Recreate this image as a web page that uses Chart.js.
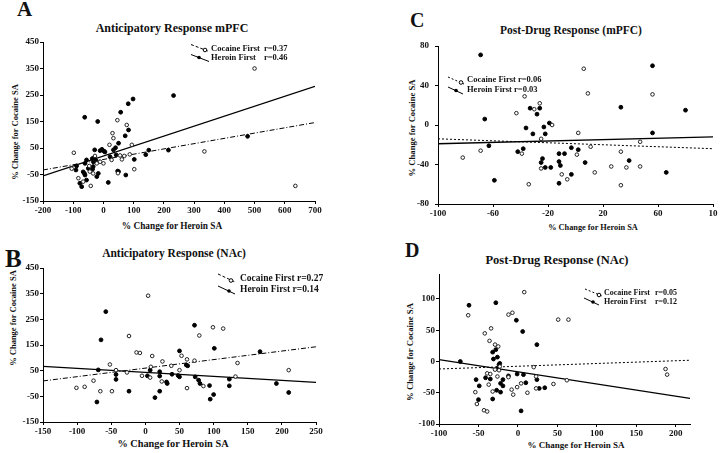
<!DOCTYPE html>
<html lang="en">
<head>
<meta charset="UTF-8">
<title>Cocaine vs heroin SA</title>
<script src="https://cdn.jsdelivr.net/npm/chart.js"></script>
<style>
  body { margin:0; background:#fff; width:720px; height:453px; overflow:hidden; position:relative;
         font-family:"Liberation Serif", "Times New Roman", serif; color:#111; }
  canvas { position:absolute; }
  .txt { position:absolute; font-weight:bold; white-space:nowrap; line-height:1; transform:translate(-50%,-50%); }
  .vert { transform:translate(-50%,-50%) rotate(-90deg); }
  .letra { position:absolute; font-weight:bold; line-height:1; }
</style>
</head>
<body>
<div class="letra" style="left:17px;top:-1px;font-size:21px">A</div>
<div class="letra" style="left:5px;top:246px;font-size:25px">B</div>
<div class="letra" style="left:410px;top:10px;font-size:20px">C</div>
<div class="letra" style="left:405px;top:240px;font-size:20px">D</div>

<div class="txt" style="left:172px;top:28px;font-size:12px">Anticipatory Response mPFC</div>
<div class="txt" style="left:174px;top:254px;font-size:11.5px">Anticipatory Response (NAc)</div>
<div class="txt" style="left:571px;top:31px;font-size:11.5px">Post-Drug Response (mPFC)</div>
<div class="txt" style="left:557px;top:260px;font-size:12.5px">Post-Drug Response (NAc)</div>

<div class="txt" style="left:172px;top:227px;font-size:9.3px">% Change for Heroin SA</div>
<div class="txt" style="left:173px;top:444px;font-size:10.3px">% Change for Heroin SA</div>
<div class="txt" style="left:593px;top:228px;font-size:8.3px">% Change for Heroin SA</div>
<div class="txt" style="left:576px;top:445px;font-size:9px">% Change for Heroin SA</div>

<div class="txt vert" style="left:15px;top:132px;font-size:8.5px">% Change for Cocaine SA</div>
<div class="txt vert" style="left:13px;top:318px;font-size:8.5px">% Change for Cocaine SA</div>
<div class="txt vert" style="left:412px;top:128px;font-size:8.6px">% Change for Cocaine SA</div>
<div class="txt vert" style="left:410px;top:352px;font-size:8.7px">% Change for Cocaine SA</div>

<canvas id="cA" width="330" height="225" style="left:0;top:0"></canvas>
<canvas id="cB" width="330" height="212" style="left:0;top:236px"></canvas>
<canvas id="cC" width="360" height="225" style="left:360px;top:0"></canvas>
<canvas id="cD" width="360" height="212" style="left:360px;top:236px"></canvas>

<script>
  // pontos: [x = % heroina, y = % cocaina]
  // A - antecipatoria mPFC
  const aCocaina = [[500,350],[635,-93],[334,37],[46,155],[77,137],[30,106],[33,87],[20,62],[94,62],[87,26],
    [-98,32],[-105,-28],[102,-30],[48,-45],[-83,-64],[-42,-93],[-28,20],[27,5],[61,7],[69,20],[-11,-2],
    [-22,-8],[-47,-18],[-67,-77],[-34,-46],[-45,-39],[0,-8],[55,22]]
  const aHeroina = [[-62,166],[-19,150],[98,235],[82,217],[232,248],[57,185],[83,118],[72,96],[50,68],[40,51],
    [477,94],[215,42],[150,42],[140,25],[102,7],[74,-52],[16,-80],[47,-37],[-72,-96],[-29,43],[-11,40],[-5,45],
    [2,38],[5,35],[22,17],[33,43],[42,24],[-37,10],[-30,14],[-24,2],[-33,-3],[-56,5],[-61,-8],[-89,-18],
    [-91,-33],[-67,-40],[-63,-46],[-61,-52],[-50,-27],[-34,-20],[-78,-83],[-56,-71],[50,-39],[-22,-58],
    [-17,-46],[-36,-30]]
  const aCocainaReta = [[-200,-33],[700,146]]
  const aHeroinaReta = [[-200,-55],[700,283]]

  // B - antecipatoria NAc
  const bCocaina = [[4,342],[-24,185],[99,219],[114,214],[79,187],[-13,121],[-8,119],[10,107],[53,108],[61,94],
    [-52,74],[8,65],[25,86],[38,69],[72,89],[135,80],[132,27],[210,52],[-27,43],[-5,30],[7,23],[24,8],
    [-101,-17],[-89,-13],[-76,11],[-66,-30],[-49,-30],[61,-18],[85,-10],[50,52],[-43,52]]
  const bHeroina = [[-58,280],[-65,170],[72,227],[101,137],[50,127],[168,124],[-69,53],[-43,35],[-43,16],
    [-24,-30],[3,30],[7,52],[21,46],[21,29],[21,-30],[14,-55],[31,6],[32,0],[39,36],[48,31],[50,26],[60,72],
    [62,69],[73,26],[78,13],[80,0],[94,-8],[100,-43],[95,-61],[123,17],[123,-9],[192,0],[210,-35],[-71,-72]]
  const bCocainaReta = [[-150,10],[250,143]]
  const bHeroinaReta = [[-150,67],[250,4]]

  // C - pos-droga mPFC
  const cCocaina = [[-82,-33],[-69,-26],[-43,12],[-37,29],[-30,16],[-26,22],[-25,-14],[-17,0],[6,57],[9,32],
    [2,-8],[11,-22],[-39,-29],[-25,-44],[-10,-50],[-34,-60],[-6,-55],[1,-30],[14,-48],[26,-42],[33,-27],
    [33,-61],[37,-43],[47,-42],[47,-17],[56,31]]
  const cHeroina = [[-69,71],[56,60],[-66,6],[-63,-21],[-59,-56],[-36,-3],[-33,17],[-28,11],[-26,17],[-23,-2],
    [-19,2],[-22,-9],[-31,-9],[-42,-27],[-38,-24],[-25,-38],[-24,-34],[-22,-43],[-18,-43],[-12,-29],[-12,-37],
    [-11,-41],[-12,-59],[-8,-29],[-3,-23],[2,-25],[7,-38],[-3,-50],[33,18],[39,-36],[56,-8],[66,-48],[80,15]]
  const cCocainaReta = [[-100,-14],[100,-24]]
  const cHeroinaReta = [[-100,-19],[100,-12]]

  // D - pos-droga NAc
  const dCocaina = [[8,111],[-63,74],[-12,75],[-7,78],[51,67],[64,67],[-42,45],[-34,53],[-36,33],[-29,27],
    [-25,24],[187,-12],[189,-21],[20,-9],[62,-30],[45,-36],[12,-50],[4,-35],[-8,-45],[-6,-53],[-54,-49],
    [-52,-68],[-43,-78],[-39,-80],[-37,-37],[-39,-19],[-32,-48],[23,-43],[-23,-8],[-24,-14],[-26,-24],
    [-1,-41],[-12,-25],[23,-24],[-29,-13],[-35,-20]]
  const dHeroina = [[-62,90],[-28,94],[-2,66],[6,48],[24,27],[-73,0],[-53,-29],[-49,-39],[-50,-61],[-41,-26],
    [-35,-28],[-32,15],[-31,4],[-28,19],[-26,7],[-24,-5],[-23,-3],[-26,-11],[-27,-46],[-32,-60],[-22,-35],
    [-22,-49],[-19,-39],[-19,-29],[-12,-23],[-1,-20],[7,-21],[10,-34],[24,-29],[27,-43],[34,-42],[4,-79]]
  const dCocainaReta = [[-100,-12],[218,2]]
  const dHeroinaReta = [[-100,3],[218,-59]]

  const fonte = '"Liberation Serif", "Times New Roman", serif'

  function pares(lista) {
    return lista.map(p => ({ x: p[0], y: p[1] }))
  }

  // legenda com tracinho inclinado e marcador, desenhada no canvas
  function criarLegenda(itens, tamanho) {
    return {
      id: 'legendaDiag',
      afterDraw(chart) {
        const ctx = chart.ctx
        ctx.save()
        ctx.font = `bold ${tamanho}px ${fonte}`
        ctx.textBaseline = 'middle'
        itens.forEach(it => {
          ctx.strokeStyle = '#000'
          ctx.lineWidth = 1
          ctx.setLineDash(it.tracejado || [])
          ctx.beginPath()
          ctx.moveTo(it.linha[0], it.linha[1])
          ctx.lineTo(it.linha[2], it.linha[3])
          ctx.stroke()
          ctx.setLineDash([])
          ctx.beginPath()
          ctx.arc(it.marca[0], it.marca[1], 1.8, 0, 2 * Math.PI)
          if (it.aberto) {
            ctx.fillStyle = '#fff'
            ctx.fill()
            ctx.stroke()
          } else {
            ctx.fillStyle = '#000'
            ctx.fill()
          }
          ctx.fillStyle = '#111'
          ctx.fillText(it.texto, it.pos[0], it.pos[1])
          if (it.r) ctx.fillText(it.r, it.rx, it.pos[1])
        })
        ctx.restore()
      }
    }
  }

  function eixo(min, max, passo, tamanho, ehY, pad, rotulo) {
    return {
      type: 'linear', min: min, max: max,
      ticks: {
        stepSize: passo, includeBounds: false, autoSkip: false, maxRotation: 0,
        color: '#111', padding: pad, font: { family: fonte, size: 9, weight: 'bold' },
        callback: rotulo || (v => v)
      },
      grid: { drawOnChartArea: false, drawTicks: true, tickLength: 3, color: '#000' },
      border: { display: true, color: '#000', width: 1 },
      afterFit: function (s) {
        if (ehY) s.width = tamanho
        else s.height = tamanho
      }
    }
  }

  function montarGrafico(id, cfg) {
    new Chart(document.getElementById(id), {
      type: 'scatter',
      data: {
        datasets: [
          { data: pares(cfg.coc), pointRadius: 1.8, pointBackgroundColor: '#fff', pointBorderColor: '#222', pointBorderWidth: 1 },
          { data: pares(cfg.her), pointRadius: 1.9, pointBackgroundColor: '#000', pointBorderColor: '#000', pointBorderWidth: 1 },
          { data: pares(cfg.cocReta), showLine: true, pointRadius: 0, borderColor: '#000', borderWidth: 1, borderDash: cfg.tracejado },
          { data: pares(cfg.herReta), showLine: true, pointRadius: 0, borderColor: '#000', borderWidth: 1.3 }
        ]
      },
      options: {
        responsive: false,
        animation: false,
        layout: { padding: { top: cfg.topo, right: cfg.direita, left: 0, bottom: 0 } },
        plugins: { legend: { display: false }, tooltip: { enabled: false } },
        scales: {
          x: eixo(cfg.x[0], cfg.x[1], cfg.x[2], cfg.alturaX, false, 1, cfg.rotuloX),
          y: eixo(cfg.y[0], cfg.y[1], cfg.y[2], cfg.larguraY, true, cfg.padY)
        }
      },
      plugins: [criarLegenda(cfg.legenda, cfg.tamLegenda)]
    })
  }

  montarGrafico('cA', {
    coc: aCocaina, her: aHeroina, cocReta: aCocainaReta, herReta: aHeroinaReta,
    tracejado: [5, 2, 1, 2], x: [-200, 700, 100], y: [-150, 450, 100],
    larguraY: 43, alturaX: 24, topo: 42, direita: 15, padY: 1, tamLegenda: 8.5,
    legenda: [
      { linha: [191, 44.5, 209, 51.5], tracejado: [3, 2], marca: [205, 50], aberto: true, texto: 'Cocaine First', r: 'r=0.37', rx: 264, pos: [211, 49] },
      { linha: [191, 54.5, 209, 61.5], marca: [199, 57.5], aberto: false, texto: 'Heroin First', r: 'r=0.46', rx: 264, pos: [211, 58] }
    ]
  })

  montarGrafico('cB', {
    coc: bCocaina, her: bHeroina, cocReta: bCocainaReta, herReta: bHeroinaReta,
    tracejado: [5, 2, 1, 2], x: [-150, 250, 50], y: [-150, 450, 100],
    larguraY: 43, alturaX: 26, topo: 32, direita: 14, padY: 1, tamLegenda: 9.5,
    legenda: [
      { linha: [218, 38, 235, 46], tracejado: [3, 2], marca: [231, 44.5], aberto: true, texto: 'Cocaine First r=0.27', pos: [240, 42.5] },
      { linha: [218, 50, 235, 58], marca: [229, 55], aberto: false, texto: 'Heroin First r=0.14', pos: [240, 54] }
    ]
  })

  montarGrafico('cC', {
    coc: cCocaina, her: cHeroina, cocReta: cCocainaReta, herReta: cHeroinaReta,
    tracejado: [2, 2], x: [-100, 100, 40], y: [-80, 80, 40],
    larguraY: 78, alturaX: 21, topo: 46, direita: 7, padY: 6, tamLegenda: 8.5,
    rotuloX: v => (v === 100 ? '10' : v),
    legenda: [
      { linha: [88, 77, 104, 84], tracejado: [2, 2], marca: [101, 82.5], aberto: true, texto: 'Cocaine First r=0.06', pos: [107, 80] },
      { linha: [88, 87, 103, 94], marca: [96, 90.5], aberto: false, texto: 'Heroin First r=0.03', pos: [107, 90] }
    ]
  })

  montarGrafico('cD', {
    coc: dCocaina, her: dHeroina, cocReta: dCocainaReta, herReta: dHeroinaReta,
    tracejado: [2, 2], x: [-100, 218, 50], y: [-100, 140, 50],
    larguraY: 79, alturaX: 24, topo: 38, direita: 30, padY: 1, tamLegenda: 8,
    legenda: [
      { linha: [225, 53, 242, 60], tracejado: [2, 2], marca: [239, 59], aberto: true, texto: 'Cocaine First', r: 'r=0.05', rx: 295, pos: [244, 57] },
      { linha: [224, 62, 239, 69], marca: [233, 66], aberto: false, texto: 'Heroin First', r: 'r=0.12', rx: 295, pos: [244, 66] }
    ]
  })
</script>
</body>
</html>
